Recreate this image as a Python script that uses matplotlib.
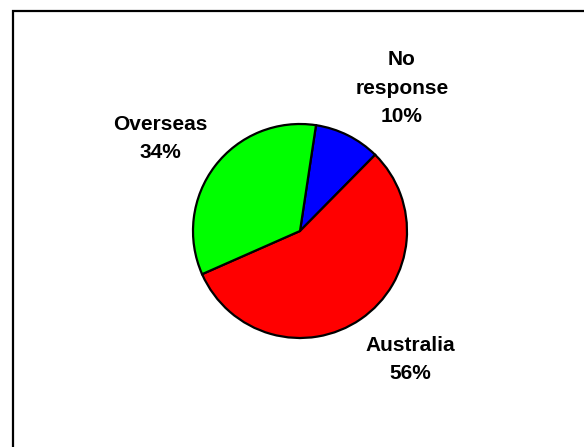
import matplotlib
matplotlib.use('Agg')
import matplotlib.pyplot as plt
from matplotlib.patches import Rectangle

# данные
categories = ['No\nresponse', 'Australia', 'Overseas']
shares = [10, 56, 34]
colors = ['#0000FF', '#FF0000', '#00FF00']

plt.rcParams['font.family'] = ['Liberation Sans', 'DejaVu Sans']

fig = plt.figure(figsize=(5.84, 4.47), dpi=100)

# рамка вокруг области графика (обрезана справа и снизу)
fig.patches.append(Rectangle((12.5 / 584, -0.05), 1.0, 1 - 10.5 / 447 + 0.05,
                             transform=fig.transFigure, fill=False,
                             edgecolor='black', linewidth=1.6))

ax = fig.add_axes([86 / 584, 2 / 447, 428 / 584, 428 / 447])
wedges, _ = ax.pie(shares, colors=colors, startangle=81.4, counterclock=False,
                   wedgeprops=dict(edgecolor='black', linewidth=1.6))
ax.set_xlim(-2, 2)
ax.set_ylim(-2, 2)
ax.set_aspect('equal')
ax.axis('off')

# подписи
label_pos = [(0.953, 1.335), (1.033, -1.20), (-1.308, 0.865)]
for name, val, (x, y) in zip(categories, shares, label_pos):
    ax.text(x, y, f'{name}\n{val}%', ha='center', va='center',
            fontsize=15, fontweight='bold', linespacing=1.63, clip_on=False)

fig.savefig('out.png', dpi=100)
